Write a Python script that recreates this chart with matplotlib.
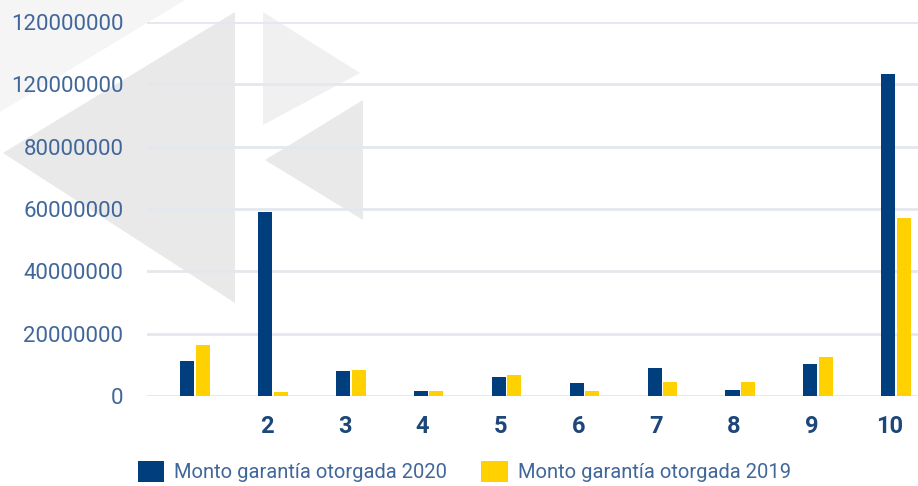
import numpy as np
import matplotlib.pyplot as plt
from matplotlib.patches import Patch, Polygon
from matplotlib.ticker import FixedLocator, FixedFormatter

# data
categories = ['', '2', '3', '4', '5', '6', '7', '8', '9', '10']
monto_2020 = [11.2e6, 59.1e6, 8.0e6, 1.6e6, 6.1e6, 4.2e6, 9.0e6, 1.9e6, 10.3e6, 103.4e6]
monto_2019 = [16.4e6, 1.3e6, 8.3e6, 1.6e6, 6.7e6, 1.6e6, 4.5e6, 4.5e6, 12.5e6, 57.1e6]
y_ticks = [0, 20e6, 40e6, 60e6, 80e6, 100e6, 120e6]
y_labels = ['0', '20000000', '40000000', '60000000', '80000000', '120000000', '120000000']
series_names = ['Monto garantía otorgada 2020', 'Monto garantía otorgada 2019']

BLUE = '#003e7e'
YELLOW = '#ffd100'
LABEL = '#41679a'
GRID = '#e4e8ee'

plt.rcParams['font.family'] = ['Roboto', 'DejaVu Sans']

fig = plt.figure(figsize=(9.18, 4.86), dpi=100)
W, H = 918, 486

# background watermark (grey triangles)
def fpoly(pts, color):
    xy = [(x / W, 1 - y / H) for x, y in pts]
    fig.patches.append(Polygon(xy, closed=True, transform=fig.transFigure,
                               facecolor=color, edgecolor='none', zorder=-5))

fpoly([(0, 0), (185, 0), (0, 112)], '#f5f5f5')
fpoly([(3, 153), (235, 12), (235, 303)], '#e9e9e9')
fpoly([(263, 12), (263, 125), (360, 73)], '#f0f0f0')
fpoly([(265, 160), (363, 100), (363, 220)], '#e9e9e9')

ax = fig.add_axes([147 / W, 1 - 396 / H, (918 - 147) / W, 374 / H])
ax.patch.set_alpha(0)

x = np.arange(len(categories))
w = 0.18
gap = 0.02
ax.bar(x - (w + gap) / 2, monto_2020, w, color=BLUE, zorder=3)
ax.bar(x + (w + gap) / 2, monto_2019, w, color=YELLOW, zorder=3)

ax.set_ylim(0, 120e6)
ax.set_xlim(-0.616, -0.616 + 771 / 77.9)

ax.yaxis.set_major_locator(FixedLocator(y_ticks))
ax.yaxis.set_major_formatter(FixedFormatter(y_labels))
ax.grid(axis='y', color=GRID, linewidth=2, zorder=1)
ax.set_axisbelow(True)

# labels sit a little left of the group centre in the reference
ax.set_xticks(x - 0.08)
ax.set_xticklabels(categories, fontsize=17, fontweight='bold', color='#1d4679')

ax.tick_params(axis='y', length=0, pad=17, labelsize=16, labelcolor=LABEL)
ax.tick_params(axis='x', length=0, pad=14)
for s in ax.spines.values():
    s.set_visible(False)

handles = [Patch(facecolor=BLUE), Patch(facecolor=YELLOW)]
leg = fig.legend(handles, series_names, loc='center left', ncol=2,
                 bbox_to_anchor=(138 / W, 1 - 471.5 / H), frameon=False,
                 prop={'size': 14.5}, labelcolor=LABEL,
                 handlelength=1.3, handleheight=1.3,
                 handletextpad=0.5, columnspacing=1.7, borderaxespad=0, borderpad=0)

fig.savefig('out.png', dpi=100)
